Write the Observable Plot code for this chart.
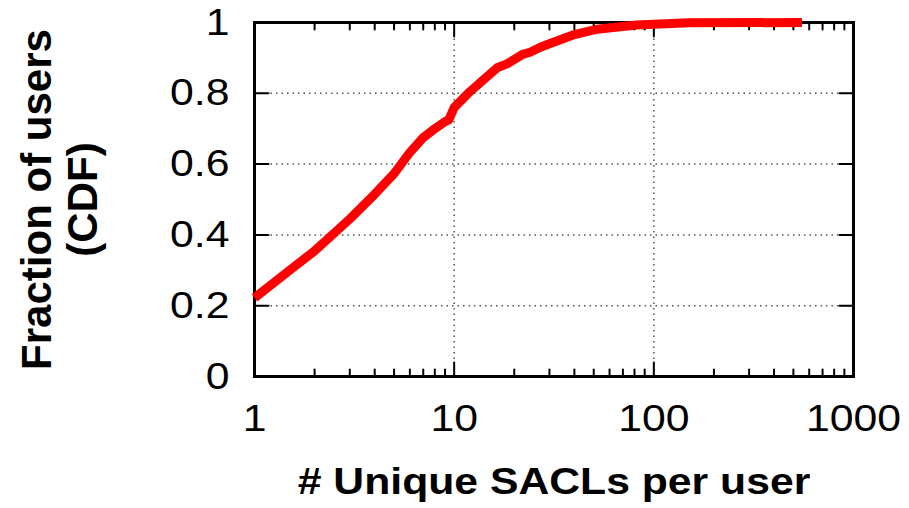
<!DOCTYPE html>
<html>
<head>
<meta charset="utf-8">
<script src="https://cdn.jsdelivr.net/npm/d3@7"></script>
<script src="https://cdn.jsdelivr.net/npm/@observablehq/plot@0.6"></script>
<style>
  html, body { margin: 0; padding: 0; background: white; }
</style>
</head>
<body>
<div id="chart"></div>
<script>
// ---- data ----
const saclsPerUser = [1, 1.5, 2, 3, 4, 5, 6, 7, 8, 9, 9.4, 10, 12, 13.5, 16.4, 18.4, 22, 24, 27, 30, 40, 52, 82, 100, 150, 552];
const cdfValues    = [0.222, 0.30, 0.355, 0.445, 0.515, 0.573, 0.633, 0.675, 0.70, 0.72, 0.725, 0.76, 0.805, 0.83, 0.872, 0.883, 0.91, 0.916, 0.93, 0.94, 0.966, 0.981, 0.993, 0.995, 0.999, 1.0];

const xTickValues = [1, 10, 100, 1000];
const xTickLabels = ["1", "10", "100", "1000"];
const yTickValues = [0, 0.2, 0.4, 0.6, 0.8, 1];
const yTickLabels = ["0", "0.2", "0.4", "0.6", "0.8", "1"];
const xMinorTicks = [2, 3, 4, 5, 6, 7, 8, 9, 20, 30, 40, 50, 60, 70, 80, 90, 200, 300, 400, 500, 600, 700, 800, 900];
const xGrid = [10, 100];
const yGrid = [0.2, 0.4, 0.6, 0.8];

const xLabel = "# Unique SACLs per user";
const yLabel = "Fraction of users\n(CDF)";

const data = saclsPerUser.map((x, i) => ({x, y: cdfValues[i]}));

const tickShape = {draw(context, l) { context.moveTo(0, 0); context.lineTo(0, -l); }};
const gridStyle = {stroke: "#555", strokeWidth: 1.5, strokeDasharray: "1.5,4"};
const tickStyle = {stroke: "black", strokeWidth: 2, shape: tickShape, anchor: "start"};

const chart = Plot.plot({
  width: 909,
  height: 508,
  marginLeft: 254,
  marginRight: 56,
  marginTop: 22,
  marginBottom: 132,
  style: {fontFamily: "'Liberation Sans', Arial, Helvetica, sans-serif", fontSize: "37.5px", color: "black", background: "white"},
  x: {
    type: "log", domain: [1, 1000], ticks: xTickValues,
    tickFormat: d => xTickLabels[xTickValues.indexOf(d)],
    tickSize: 0, tickPadding: 28, label: null
  },
  y: {
    domain: [0, 1], ticks: yTickValues,
    tickFormat: d => yTickLabels[yTickValues.indexOf(d)],
    tickSize: 0, tickPadding: 25, label: null
  },
  marks: [
    Plot.ruleX(xGrid, {x: d => d, ...gridStyle}),
    Plot.ruleY(yGrid, {y: d => d, ...gridStyle}),
    // inward, mirrored tick marks
    Plot.vector(xTickValues, {x: d => d, y: () => 0, length: 14, rotate: 0, ...tickStyle}),
    Plot.vector(xTickValues, {x: d => d, y: () => 1, length: 14, rotate: 180, ...tickStyle}),
    Plot.vector(xMinorTicks, {x: d => d, y: () => 0, length: 7, rotate: 0, ...tickStyle}),
    Plot.vector(xMinorTicks, {x: d => d, y: () => 1, length: 7, rotate: 180, ...tickStyle}),
    Plot.vector(yTickValues, {x: () => 1, y: d => d, length: 14, rotate: 90, ...tickStyle}),
    Plot.vector(yTickValues, {x: () => 1000, y: d => d, length: 14, rotate: -90, ...tickStyle}),
    Plot.frame({stroke: "black", strokeWidth: 3}),
    Plot.line(data, {x: "x", y: "y", stroke: "#ff0000", strokeWidth: 9, strokeLinejoin: "round", strokeLinecap: "butt"}),
    Plot.text([xLabel], {text: d => d, frameAnchor: "bottom", textAnchor: "middle", lineAnchor: "middle", dy: 106, fontWeight: "bold", fontSize: 36.5, fill: "black"}),
    Plot.text([yLabel], {text: d => d, frameAnchor: "left", textAnchor: "middle", lineAnchor: "middle", rotate: -90, dx: -195, fontWeight: "bold", fontSize: 42, lineHeight: 1.1, fill: "black"})
  ]
});
document.getElementById("chart").appendChild(chart);

// The reference's horizontal texts are set in a wide Helvetica: widen them a little.
chart.querySelectorAll("text").forEach(t => {
  const tr = t.getAttribute("transform") || "";
  if (tr.includes("rotate")) return;
  if (t.querySelectorAll("tspan").length > 1) return;
  const isLabel = t.textContent === xLabel;
  const k = isLabel ? 1.17 : 1.14;
  const len = t.getComputedTextLength();
  if (len > 0) {
    t.setAttribute("textLength", (len * k).toFixed(2));
    t.setAttribute("lengthAdjust", "spacingAndGlyphs");
  }
});
</script>
</body>
</html>
